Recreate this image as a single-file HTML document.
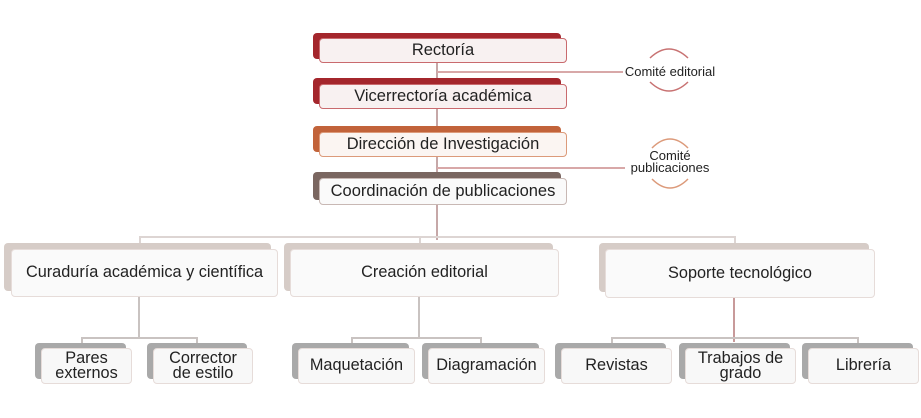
<!DOCTYPE html>
<html><head><meta charset="utf-8"><style>
body{margin:0;width:921px;height:418px;background:#fff;position:relative;overflow:hidden;font-family:"Liberation Sans",sans-serif;color:#222}
.t{position:absolute;border-radius:4px}
.f{position:absolute;border-radius:4px;display:flex;align-items:center;justify-content:center;text-align:center;box-sizing:border-box;line-height:0.95}
.l{position:absolute;background:#c9c3c1}
.top{font-size:16.5px;background:#f8f1f1}
.l2{font-size:16.3px;background:#fafafa;border:1.5px solid #e6dcd9}
.l3{font-size:16.3px;background:#f8f8f8;border:1.5px solid #e6dcd9}
.gt{background:#a9a9a9}
.bt{background:#d6ccc7}
</style></head><body>
<!-- lines -->
<div class="l" style="left:436px;top:62px;width:2px;height:178px;background:#c6a8a8"></div>
<div class="l" style="left:437px;top:71px;width:186px;height:1.5px;background:#d8a8a8"></div>
<div class="l" style="left:437px;top:167px;width:188px;height:1.5px;background:#d8a8a8"></div>
<div class="l" style="left:139px;top:236px;width:596px;height:2px;background:#ddd5d3"></div>
<div class="l" style="left:139px;top:236px;width:2px;height:12px;background:#ddd5d3"></div>
<div class="l" style="left:419px;top:236px;width:2px;height:12px;background:#ddd5d3"></div>
<div class="l" style="left:734px;top:236px;width:2px;height:12px;background:#ddd5d3"></div>
<div class="l" style="left:138px;top:296px;width:2px;height:43px"></div>
<div class="l" style="left:81px;top:337px;width:117px;height:2px"></div>
<div class="l" style="left:81px;top:337px;width:2px;height:8px"></div>
<div class="l" style="left:196px;top:337px;width:2px;height:8px"></div>
<div class="l" style="left:418px;top:296px;width:2px;height:43px"></div>
<div class="l" style="left:351px;top:337px;width:130px;height:2px"></div>
<div class="l" style="left:351px;top:337px;width:2px;height:8px"></div>
<div class="l" style="left:480px;top:337px;width:2px;height:8px"></div>
<div class="l" style="left:733px;top:297px;width:2px;height:45px;background:#c89a9a"></div>
<div class="l" style="left:611px;top:337px;width:248px;height:2px"></div>
<div class="l" style="left:611px;top:337px;width:2px;height:8px"></div>
<div class="l" style="left:857px;top:337px;width:2px;height:8px"></div>
<!-- committees -->
<svg style="position:absolute;left:0;top:0" width="921" height="418">
<path d="M650,58 Q669,40 688,58" fill="none" stroke="#c87272" stroke-width="1.5"/>
<path d="M650,82 Q669,100 688,82" fill="none" stroke="#c87272" stroke-width="1.5"/>
<path d="M652,148 Q670,130 688,148" fill="none" stroke="#dc9a7a" stroke-width="1.5"/>
<path d="M652,179 Q670,197 688,179" fill="none" stroke="#dc9a7a" stroke-width="1.5"/>
</svg>
<div style="position:absolute;left:620px;top:64px;width:100px;font-size:13px;text-align:center">Comité editorial</div>
<div style="position:absolute;left:622px;top:150px;width:96px;font-size:13px;text-align:center;line-height:12px">Comité<br>publicaciones</div>
<!-- top -->
<div class="t" style="left:313px;top:33px;width:248px;height:26px;background:#a4262c"></div>
<div class="f top" style="left:319px;top:38px;width:248px;height:25px;border:1.5px solid #c96a6e">Rectoría</div>
<div class="t" style="left:313px;top:78px;width:248px;height:26px;background:#a4262c"></div>
<div class="f top" style="left:319px;top:84px;width:248px;height:25px;border:1.5px solid #c96a6e">Vicerrectoría académica</div>
<div class="t" style="left:313px;top:126px;width:248px;height:26px;background:#c2633a"></div>
<div class="f top" style="left:319px;top:132px;width:248px;height:25px;border:1.5px solid #dc9a7a;background:#fbf5f2">Dirección de Investigación</div>
<div class="t" style="left:313px;top:172px;width:248px;height:28px;background:#7a6660"></div>
<div class="f top" style="left:319px;top:178px;width:248px;height:27px;border:1.5px solid #c8b8b4;background:#fafafa">Coordinación de publicaciones</div>
<!-- level 2 -->
<div class="t bt" style="left:4px;top:243px;width:267px;height:48px"></div>
<div class="f l2" style="left:11px;top:249px;width:267px;height:48px">Curaduría académica y científica</div>
<div class="t bt" style="left:284px;top:243px;width:269px;height:48px"></div>
<div class="f l2" style="left:290px;top:249px;width:269px;height:48px">Creación editorial</div>
<div class="t bt" style="left:599px;top:243px;width:270px;height:49px"></div>
<div class="f l2" style="left:605px;top:249px;width:270px;height:49px">Soporte tecnológico</div>
<!-- level 3 -->
<div class="t gt" style="left:35px;top:343px;width:91px;height:36px"></div>
<div class="f l3" style="left:41px;top:348px;width:91px;height:36px">Pares<br>externos</div>
<div class="t gt" style="left:147px;top:343px;width:100px;height:36px"></div>
<div class="f l3" style="left:153px;top:348px;width:100px;height:36px">Corrector<br>de estilo</div>
<div class="t gt" style="left:292px;top:343px;width:117px;height:36px"></div>
<div class="f l3" style="left:298px;top:348px;width:117px;height:36px">Maquetación</div>
<div class="t gt" style="left:422px;top:343px;width:117px;height:36px"></div>
<div class="f l3" style="left:428px;top:348px;width:117px;height:36px">Diagramación</div>
<div class="t gt" style="left:555px;top:343px;width:111px;height:36px"></div>
<div class="f l3" style="left:561px;top:348px;width:111px;height:36px">Revistas</div>
<div class="t gt" style="left:679px;top:343px;width:111px;height:36px"></div>
<div class="f l3" style="left:685px;top:348px;width:111px;height:36px">Trabajos de<br>grado</div>
<div class="t gt" style="left:802px;top:343px;width:111px;height:36px"></div>
<div class="f l3" style="left:808px;top:348px;width:111px;height:36px">Librería</div>
</body></html>
